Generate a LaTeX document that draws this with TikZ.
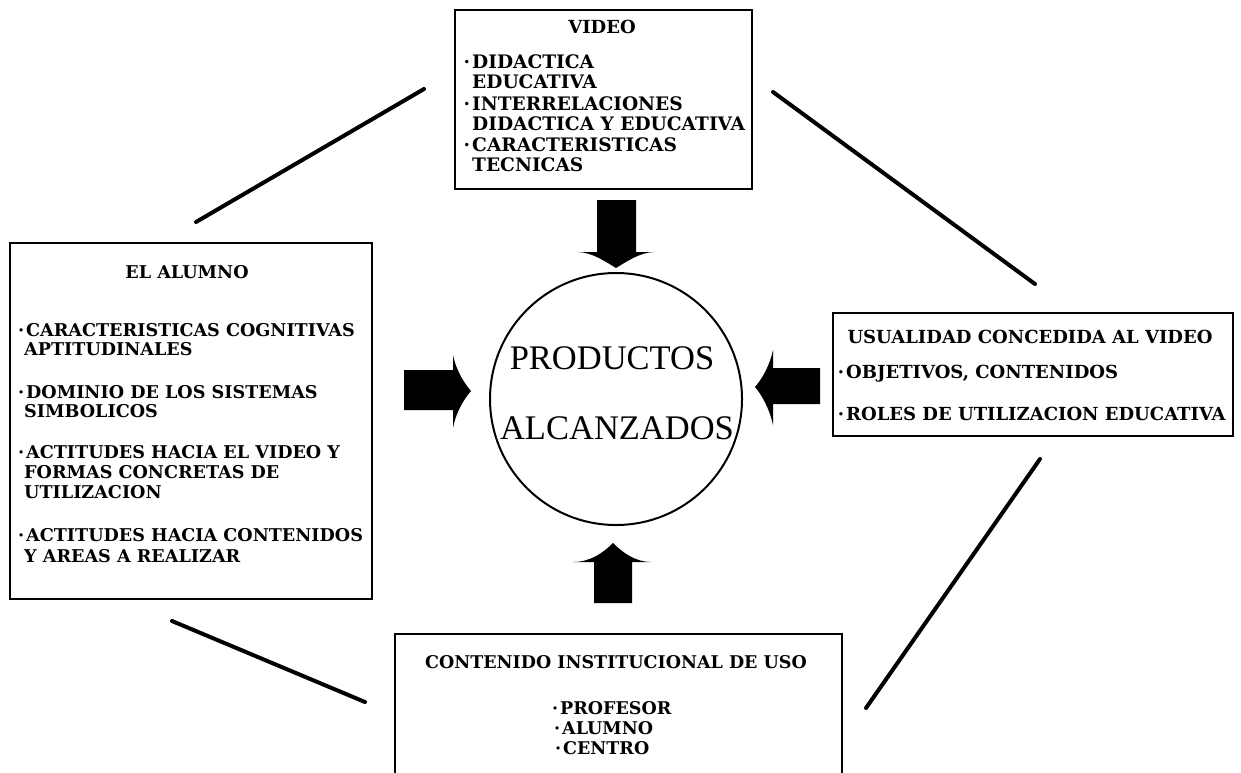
\documentclass[tikz,border=0pt]{standalone}
\usepackage{fontspec}
\newfontfamily\slab{DejaVu Serif}
\newfontfamily\tms{Liberation Serif}
\newcommand\bul{\llap{·\hspace{2pt}}}
\begin{document}
\begin{tikzpicture}[x=1pt,y=-1pt]
\tikzset{
  box/.style={draw, line width=2.6pt, inner sep=0pt, rectangle},
  txt/.style={font=\slab\bfseries\fontsize{18}{18}\selectfont, anchor=base west, inner sep=0pt},
  ttl/.style={font=\slab\bfseries\fontsize{18}{18}\selectfont, anchor=base, inner sep=0pt},
  vtxt/.style={txt, font=\slab\bfseries\fontsize{18.6}{18.6}\selectfont},
  atxt/.style={txt, font=\slab\bfseries\fontsize{17.6}{17.6}\selectfont},
  ctxt/.style={txt, font=\slab\bfseries\fontsize{17.5}{17.5}\selectfont},
  big/.style={font=\tms\fontsize{34.5}{34.5}\selectfont, anchor=base, inner sep=0pt},
  link/.style={line width=4pt, line cap=round},
  blockarrow/.style={fill=black, draw=none},
}
\useasboundingbox (0,0) rectangle (1241,772);
\clip (0,0) rectangle (1241,772);

% boxes
\node[box, minimum width=297pt, minimum height=179pt] (video) at (603.5,99.5) {};
\node[box, minimum width=362pt, minimum height=356pt] (alumno) at (191,421) {};
\node[box, minimum width=400pt, minimum height=123pt] (usual) at (1033,374.5) {};
\node[box, minimum width=447pt, minimum height=180pt] (contenido) at (618.5,724) {};
\node[draw, circle, line width=2pt, minimum size=252pt, inner sep=0pt] (prod) at (616,399) {};

% circle text
\node[big] (p1) at (612,369) {PRODUCTOS};
\node[big] (p2) at (617,439) {ALCANZADOS};

% video text
\node[ttl] (v0) at (602,33) {VIDEO};
\node[vtxt] (v1) at (472,68) {\bul DIDACTICA};
\node[vtxt] (v2) at (472,88) {EDUCATIVA};
\node[vtxt] (v3) at (472,110) {\bul INTERRELACIONES};
\node[vtxt] (v4) at (472,130) {DIDACTICA Y EDUCATIVA};
\node[vtxt] (v5) at (472,151) {\bul CARACTERISTICAS};
\node[vtxt] (v6) at (472,171) {TECNICAS};

% alumno text
\node[ttl, font=\slab\bfseries\fontsize{17.6}{17.6}\selectfont] (a0) at (187,278) {EL ALUMNO};
\node[atxt] (a1) at (26,336) {\bul CARACTERISTICAS COGNITIVAS};
\node[atxt] (a2) at (24,355) {APTITUDINALES};
\node[atxt] (a3) at (26,398) {\bul DOMINIO DE LOS SISTEMAS};
\node[atxt] (a4) at (24,417) {SIMBOLICOS};
\node[atxt] (a5) at (26,458) {\bul ACTITUDES HACIA EL VIDEO Y};
\node[atxt] (a6) at (24,478) {FORMAS CONCRETAS DE};
\node[atxt] (a7) at (24,498) {UTILIZACION};
\node[atxt] (a8) at (26,541) {\bul ACTITUDES HACIA CONTENIDOS};
\node[atxt] (a9) at (24,562) {Y AREAS A REALIZAR};

% usualidad text
\node[ttl] (u0) at (1030,343) {USUALIDAD CONCEDIDA AL VIDEO};
\node[txt] (u1) at (846,378) {\bul OBJETIVOS, CONTENIDOS};
\node[txt] (u2) at (846,420) {\bul ROLES DE UTILIZACION EDUCATIVA};

% contenido text
\node[ttl, font=\slab\bfseries\fontsize{17.5}{17.5}\selectfont] (c0) at (616,668) {CONTENIDO INSTITUCIONAL DE USO};
\node[ctxt] (c1) at (560,714) {\bul PROFESOR};
\node[ctxt] (c2) at (562,734) {\bul ALUMNO};
\node[ctxt] (c3) at (563,754) {\bul CENTRO};

% block arrows
\fill[blockarrow] (597,200) -- (636,200) -- (636,252) -- (655,252)
  .. controls (640,252) and (626,262) .. (616,268)
  .. controls (606,262) and (592,252) .. (577,252) -- (597,252) -- cycle;
\fill[blockarrow] (594,603) -- (632,603) -- (632,562) -- (651,562)
  .. controls (636,562) and (623,553) .. (613,543)
  .. controls (603,553) and (590,562) .. (573,562) -- (594,562) -- cycle;
\fill[blockarrow] (404,370) -- (453,370) -- (453,355)
  .. controls (456,370) and (464,383) .. (471,391)
  .. controls (464,399) and (456,412) .. (453,428) -- (453,410) -- (404,410) -- cycle;
\fill[blockarrow] (820,368) -- (773,368) -- (773,350)
  .. controls (770,365) and (762,379) .. (755,387)
  .. controls (762,395) and (770,410) .. (773,425) -- (773,404) -- (820,404) -- cycle;

% connecting lines
\coordinate (l1a) at (196,222); \coordinate (l1b) at (424,89);
\coordinate (l2a) at (773,92);  \coordinate (l2b) at (1035,284);
\coordinate (l3a) at (1040,459); \coordinate (l3b) at (866,708);
\coordinate (l4a) at (172,621); \coordinate (l4b) at (365,702);
\draw[link] (l1a) -- (l1b);
\draw[link] (l2a) -- (l2b);
\draw[link] (l3a) -- (l3b);
\draw[link] (l4a) -- (l4b);
\end{tikzpicture}
\end{document}
